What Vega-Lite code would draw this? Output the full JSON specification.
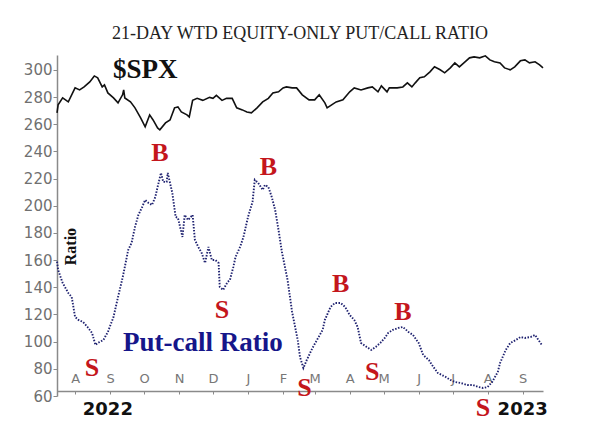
{
  "$schema": "https://vega.github.io/schema/vega-lite/v6.json",
  "width": 486,
  "height": 341,
  "autosize": {"type": "none"},
  "padding": {"left": 57, "top": 55, "right": 57, "bottom": 50},
  "background": "white",
  "config": {"view": {"stroke": null}},
  "title": {
    "text": "21-DAY WTD EQUITY-ONLY PUT/CALL RATIO",
    "font": "Liberation Serif",
    "fontSize": 18,
    "fontWeight": "normal",
    "color": "#222222",
    "anchor": "middle",
    "offset": 10
  },
  "datasets": {
    "spx": [
      {"date": "2022-07-16", "value": 268.4}, {"date": "2022-07-17", "value": 274.3}, {"date": "2022-07-21", "value": 279.4},
      {"date": "2022-07-26", "value": 276.5}, {"date": "2022-08-01", "value": 286.8}, {"date": "2022-08-05", "value": 285.3},
      {"date": "2022-08-09", "value": 287.5}, {"date": "2022-08-14", "value": 291.2}, {"date": "2022-08-18", "value": 295.6},
      {"date": "2022-08-21", "value": 294.2}, {"date": "2022-08-25", "value": 287.5}, {"date": "2022-08-27", "value": 289},
      {"date": "2022-08-30", "value": 283.1}, {"date": "2022-09-04", "value": 279.4}, {"date": "2022-09-08", "value": 275.8},
      {"date": "2022-09-12", "value": 281.7}, {"date": "2022-09-13", "value": 285.3}, {"date": "2022-09-14", "value": 279.4},
      {"date": "2022-09-19", "value": 276.5}, {"date": "2022-09-23", "value": 272.1}, {"date": "2022-09-28", "value": 264.7},
      {"date": "2022-10-02", "value": 258.1}, {"date": "2022-10-06", "value": 266.9}, {"date": "2022-10-09", "value": 263.2},
      {"date": "2022-10-13", "value": 257.3}, {"date": "2022-10-15", "value": 255.9}, {"date": "2022-10-20", "value": 261},
      {"date": "2022-10-24", "value": 263.2}, {"date": "2022-10-28", "value": 272.1}, {"date": "2022-10-31", "value": 272.8},
      {"date": "2022-11-03", "value": 269.1}, {"date": "2022-11-08", "value": 266.9}, {"date": "2022-11-10", "value": 265.4},
      {"date": "2022-11-13", "value": 277.6}, {"date": "2022-11-17", "value": 279.1}, {"date": "2022-11-22", "value": 277.6},
      {"date": "2022-11-28", "value": 279.8}, {"date": "2022-12-01", "value": 279.1}, {"date": "2022-12-04", "value": 281.3},
      {"date": "2022-12-09", "value": 277.6}, {"date": "2022-12-13", "value": 279.1}, {"date": "2022-12-18", "value": 279.1},
      {"date": "2022-12-22", "value": 272.1}, {"date": "2022-12-27", "value": 270.6}, {"date": "2022-12-31", "value": 269.1},
      {"date": "2023-01-04", "value": 268.4}, {"date": "2023-01-09", "value": 272.1}, {"date": "2023-01-14", "value": 276.5},
      {"date": "2023-01-19", "value": 279.1}, {"date": "2023-01-23", "value": 283.1}, {"date": "2023-01-28", "value": 283.9},
      {"date": "2023-02-01", "value": 286.8}, {"date": "2023-02-04", "value": 287.5}, {"date": "2023-02-09", "value": 286.8},
      {"date": "2023-02-13", "value": 286.8}, {"date": "2023-02-18", "value": 281.7}, {"date": "2023-02-24", "value": 278},
      {"date": "2023-03-01", "value": 278}, {"date": "2023-03-05", "value": 281.7}, {"date": "2023-03-10", "value": 275.8},
      {"date": "2023-03-12", "value": 272.1}, {"date": "2023-03-16", "value": 274.3}, {"date": "2023-03-20", "value": 276.5},
      {"date": "2023-03-26", "value": 278}, {"date": "2023-04-01", "value": 283.9}, {"date": "2023-04-05", "value": 286.8},
      {"date": "2023-04-11", "value": 285.3}, {"date": "2023-04-17", "value": 286.8}, {"date": "2023-04-21", "value": 287.5},
      {"date": "2023-04-26", "value": 283.9}, {"date": "2023-04-29", "value": 288.3}, {"date": "2023-05-04", "value": 283.9},
      {"date": "2023-05-06", "value": 286.8}, {"date": "2023-05-13", "value": 286.8}, {"date": "2023-05-18", "value": 287.5},
      {"date": "2023-05-22", "value": 290.5}, {"date": "2023-05-26", "value": 287.5}, {"date": "2023-05-29", "value": 290.5},
      {"date": "2023-06-02", "value": 294.2}, {"date": "2023-06-06", "value": 294.9}, {"date": "2023-06-11", "value": 298.6},
      {"date": "2023-06-15", "value": 302.3}, {"date": "2023-06-20", "value": 300.1}, {"date": "2023-06-24", "value": 297.9},
      {"date": "2023-06-29", "value": 301.5}, {"date": "2023-07-03", "value": 305.2}, {"date": "2023-07-07", "value": 302.3},
      {"date": "2023-07-12", "value": 306}, {"date": "2023-07-16", "value": 308.9}, {"date": "2023-07-20", "value": 309.6},
      {"date": "2023-07-25", "value": 308.9}, {"date": "2023-07-30", "value": 310.4}, {"date": "2023-08-03", "value": 307.4},
      {"date": "2023-08-07", "value": 306}, {"date": "2023-08-12", "value": 305.2}, {"date": "2023-08-16", "value": 301.5},
      {"date": "2023-08-21", "value": 300.1}, {"date": "2023-08-25", "value": 302.3}, {"date": "2023-08-30", "value": 306.7},
      {"date": "2023-09-03", "value": 307.4}, {"date": "2023-09-07", "value": 305.2}, {"date": "2023-09-12", "value": 306},
      {"date": "2023-09-16", "value": 303.7}, {"date": "2023-09-19", "value": 301.5}
    ],
    "pcr": [
      {"date": "2022-07-16", "value": 158.9}, {"date": "2022-07-17", "value": 152.8}, {"date": "2022-07-21", "value": 143.2},
      {"date": "2022-07-26", "value": 135.8}, {"date": "2022-07-29", "value": 132.9}, {"date": "2022-08-01", "value": 118.2},
      {"date": "2022-08-04", "value": 116}, {"date": "2022-08-08", "value": 114.5}, {"date": "2022-08-12", "value": 110.8},
      {"date": "2022-08-16", "value": 106.4}, {"date": "2022-08-19", "value": 97.6}, {"date": "2022-08-21", "value": 99},
      {"date": "2022-08-26", "value": 101.2}, {"date": "2022-08-30", "value": 107.1}, {"date": "2022-09-04", "value": 118.2},
      {"date": "2022-09-08", "value": 132.9}, {"date": "2022-09-12", "value": 146.9}, {"date": "2022-09-14", "value": 155},
      {"date": "2022-09-17", "value": 167.5}, {"date": "2022-09-20", "value": 172.7}, {"date": "2022-09-23", "value": 184.4},
      {"date": "2022-09-26", "value": 193.3}, {"date": "2022-09-29", "value": 198.4}, {"date": "2022-10-02", "value": 204.3},
      {"date": "2022-10-05", "value": 202.1}, {"date": "2022-10-08", "value": 200.6}, {"date": "2022-10-11", "value": 206.5},
      {"date": "2022-10-13", "value": 213.9}, {"date": "2022-10-16", "value": 224.2}, {"date": "2022-10-18", "value": 217.6},
      {"date": "2022-10-21", "value": 217.6}, {"date": "2022-10-22", "value": 224.2}, {"date": "2022-10-26", "value": 209.5},
      {"date": "2022-10-29", "value": 191.8}, {"date": "2022-10-31", "value": 191.1}, {"date": "2022-11-04", "value": 177.1},
      {"date": "2022-11-06", "value": 193.3}, {"date": "2022-11-09", "value": 189.6}, {"date": "2022-11-13", "value": 193.3},
      {"date": "2022-11-15", "value": 174.9}, {"date": "2022-11-18", "value": 169.7}, {"date": "2022-11-21", "value": 165.3},
      {"date": "2022-11-24", "value": 157.9}, {"date": "2022-11-27", "value": 169.7}, {"date": "2022-11-30", "value": 160.1},
      {"date": "2022-12-03", "value": 160.1}, {"date": "2022-12-06", "value": 157.9}, {"date": "2022-12-07", "value": 140.3},
      {"date": "2022-12-10", "value": 138.1}, {"date": "2022-12-14", "value": 144}, {"date": "2022-12-16", "value": 145.4},
      {"date": "2022-12-19", "value": 155}, {"date": "2022-12-21", "value": 162.4}, {"date": "2022-12-25", "value": 169.7},
      {"date": "2022-12-28", "value": 177.1}, {"date": "2023-01-01", "value": 191.8}, {"date": "2023-01-05", "value": 202.9},
      {"date": "2023-01-07", "value": 219.1}, {"date": "2023-01-10", "value": 216.8}, {"date": "2023-01-14", "value": 211.7},
      {"date": "2023-01-16", "value": 215.4}, {"date": "2023-01-19", "value": 213.9}, {"date": "2023-01-22", "value": 206.5},
      {"date": "2023-01-25", "value": 197}, {"date": "2023-01-28", "value": 182.2}, {"date": "2023-01-31", "value": 166},
      {"date": "2023-02-05", "value": 145.4}, {"date": "2023-02-09", "value": 121.9}, {"date": "2023-02-14", "value": 101.2},
      {"date": "2023-02-16", "value": 88.7}, {"date": "2023-02-19", "value": 80.6}, {"date": "2023-02-22", "value": 86.5},
      {"date": "2023-02-27", "value": 95.3}, {"date": "2023-03-03", "value": 101.2}, {"date": "2023-03-08", "value": 108.6},
      {"date": "2023-03-10", "value": 116}, {"date": "2023-03-15", "value": 125.5}, {"date": "2023-03-19", "value": 128.5},
      {"date": "2023-03-24", "value": 128.5}, {"date": "2023-03-28", "value": 125.5}, {"date": "2023-04-01", "value": 119.6},
      {"date": "2023-04-05", "value": 116}, {"date": "2023-04-08", "value": 110.8}, {"date": "2023-04-11", "value": 99},
      {"date": "2023-04-16", "value": 96.1}, {"date": "2023-04-20", "value": 93.9}, {"date": "2023-04-24", "value": 96.1},
      {"date": "2023-04-28", "value": 99}, {"date": "2023-05-02", "value": 102.7}, {"date": "2023-05-05", "value": 106.4},
      {"date": "2023-05-09", "value": 108.6}, {"date": "2023-05-14", "value": 110.1}, {"date": "2023-05-18", "value": 110.8},
      {"date": "2023-05-23", "value": 107.1}, {"date": "2023-05-27", "value": 104.9}, {"date": "2023-06-01", "value": 99},
      {"date": "2023-06-05", "value": 90.2}, {"date": "2023-06-10", "value": 86.5}, {"date": "2023-06-14", "value": 81.4},
      {"date": "2023-06-18", "value": 76.9}, {"date": "2023-06-25", "value": 74}, {"date": "2023-06-29", "value": 71.8},
      {"date": "2023-07-03", "value": 70.3}, {"date": "2023-07-08", "value": 69.6}, {"date": "2023-07-14", "value": 68.1},
      {"date": "2023-07-19", "value": 68.1}, {"date": "2023-07-24", "value": 66.6}, {"date": "2023-07-28", "value": 65.9},
      {"date": "2023-08-01", "value": 66.6}, {"date": "2023-08-05", "value": 70.3}, {"date": "2023-08-10", "value": 77.7},
      {"date": "2023-08-12", "value": 84.3}, {"date": "2023-08-17", "value": 93.9}, {"date": "2023-08-21", "value": 99},
      {"date": "2023-08-26", "value": 101.2}, {"date": "2023-08-30", "value": 103.4}, {"date": "2023-09-03", "value": 102.7},
      {"date": "2023-09-08", "value": 103.4}, {"date": "2023-09-12", "value": 104.9}, {"date": "2023-09-15", "value": 101.2},
      {"date": "2023-09-18", "value": 97.6}
    ],
    "notes": [
      {"kind": "signal", "label": "S", "date": "2022-08-16", "value": 80.6},
      {"kind": "signal", "label": "B", "date": "2022-10-15", "value": 238.9},
      {"kind": "signal", "label": "S", "date": "2022-12-09", "value": 123.3},
      {"kind": "signal", "label": "B", "date": "2023-01-19", "value": 228.6},
      {"kind": "signal", "label": "S", "date": "2023-02-20", "value": 65.9},
      {"kind": "signal", "label": "B", "date": "2023-03-24", "value": 142.5},
      {"kind": "signal", "label": "S", "date": "2023-04-21", "value": 77.7},
      {"kind": "signal", "label": "B", "date": "2023-05-18", "value": 121.9},
      {"kind": "signal", "label": "S", "date": "2023-07-28", "value": 51.2},
      {"kind": "spx", "label": "$SPX", "date": "2022-10-02", "value": 300.1},
      {"kind": "pcr", "label": "Put-call Ratio", "date": "2022-11-22", "value": 99},
      {"kind": "axis", "label": "Ratio", "date": "2022-07-28", "value": 170},
      {"kind": "year", "label": "2022", "date": "2022-08-30", "value": 49.7},
      {"kind": "year", "label": "2023", "date": "2023-09-01", "value": 49.7}
    ]
  },
  "encoding": {
    "x": {
      "field": "date", "type": "temporal",
      "scale": {"type": "utc", "domain": [{"year": 2022, "month": 7, "date": 16, "utc": true}, {"year": 2023, "month": 9, "date": 19, "utc": true}]},
      "axis": {
        "title": null, "grid": false, "offset": -5,
        "values": [
          {"year": 2022, "month": 8, "date": 1, "utc": true}, {"year": 2022, "month": 9, "date": 1, "utc": true},
          {"year": 2022, "month": 10, "date": 1, "utc": true}, {"year": 2022, "month": 11, "date": 1, "utc": true},
          {"year": 2022, "month": 12, "date": 1, "utc": true}, {"year": 2023, "month": 1, "date": 1, "utc": true},
          {"year": 2023, "month": 2, "date": 1, "utc": true}, {"year": 2023, "month": 3, "date": 1, "utc": true},
          {"year": 2023, "month": 4, "date": 1, "utc": true}, {"year": 2023, "month": 5, "date": 1, "utc": true},
          {"year": 2023, "month": 6, "date": 1, "utc": true}, {"year": 2023, "month": 7, "date": 1, "utc": true},
          {"year": 2023, "month": 8, "date": 1, "utc": true}, {"year": 2023, "month": 9, "date": 1, "utc": true}
        ],
        "labelExpr": "substring(utcFormat(datum.value, '%b'), 0, 1)",
        "domainColor": "#8a8a8a", "domainWidth": 1.5,
        "tickColor": "#8a8a8a", "tickSize": 3,
        "labelColor": "#777777", "labelFont": "DejaVu Sans", "labelFontSize": 13,
        "labelBaseline": "middle", "labelPadding": -16,
        "labelOverlap": false, "labelBound": false, "labelFlush": false
      }
    },
    "y": {
      "field": "value", "type": "quantitative",
      "scale": {"domain": [60, 311], "nice": false, "zero": false},
      "axis": {
        "title": null, "grid": false,
        "values": [60, 80, 100, 120, 140, 160, 180, 200, 220, 240, 260, 280, 300],
        "domainColor": "#8a8a8a", "domainWidth": 1.5,
        "tickColor": "#8a8a8a", "tickSize": 4,
        "labelColor": "#707070", "labelFont": "DejaVu Sans", "labelFontSize": 15,
        "labelPadding": 1, "labelOverlap": false, "labelBound": false, "labelFlush": false
      }
    }
  },
  "layer": [
    {
      "data": {"name": "spx"},
      "mark": {"type": "line", "color": "#111111", "strokeWidth": 1.6}
    },
    {
      "data": {"name": "pcr"},
      "mark": {"type": "line", "color": "#1f2270", "strokeWidth": 1.9, "strokeDash": [1.5, 1.5]}
    },
    {
      "data": {"name": "notes"},
      "transform": [{"filter": "datum.kind === 'signal'"}],
      "mark": {"type": "text", "font": "Liberation Serif", "fontWeight": "bold", "fontSize": 26, "color": "#c4161c", "baseline": "middle", "align": "center"},
      "encoding": {"text": {"field": "label"}}
    },
    {
      "data": {"name": "notes"},
      "transform": [{"filter": "datum.kind === 'spx'"}],
      "mark": {"type": "text", "font": "Liberation Serif", "fontWeight": "bold", "fontSize": 27, "color": "#111111", "baseline": "middle", "align": "center"},
      "encoding": {"text": {"field": "label"}}
    },
    {
      "data": {"name": "notes"},
      "transform": [{"filter": "datum.kind === 'pcr'"}],
      "mark": {"type": "text", "font": "Liberation Serif", "fontWeight": "bold", "fontSize": 27, "color": "#16168a", "baseline": "middle", "align": "center"},
      "encoding": {"text": {"field": "label"}}
    },
    {
      "data": {"name": "notes"},
      "transform": [{"filter": "datum.kind === 'axis'"}],
      "mark": {"type": "text", "font": "Liberation Serif", "fontWeight": "bold", "fontSize": 16, "color": "#111111", "baseline": "middle", "align": "center", "angle": 270},
      "encoding": {"text": {"field": "label"}}
    },
    {
      "data": {"name": "notes"},
      "transform": [{"filter": "datum.kind === 'year'"}],
      "mark": {"type": "text", "font": "DejaVu Sans", "fontWeight": "bold", "fontSize": 18, "color": "#111111", "baseline": "middle", "align": "center"},
      "encoding": {"text": {"field": "label"}}
    }
  ]
}
